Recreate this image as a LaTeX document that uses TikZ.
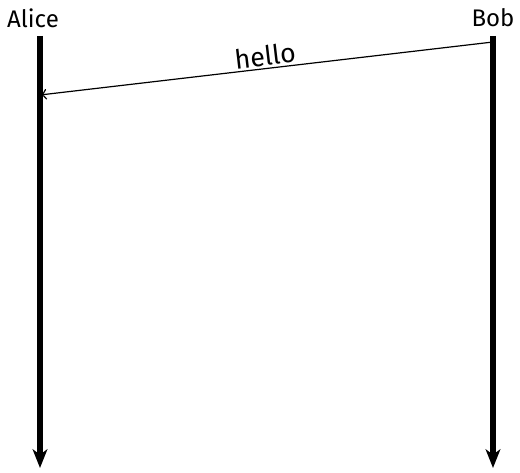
\documentclass[tikz,border=0pt]{standalone}
\usepackage{fontspec}
\setmainfont{Fira Sans}
\usetikzlibrary{arrows.meta}
\begin{document}
\begin{tikzpicture}[x=0.75pt,y=-0.75pt,
  actor/.style={font=\fontsize{18}{21}\selectfont, inner sep=0pt},
  lifeline/.style={line width=3.8pt, -{Stealth[length=14pt,width=11pt,inset=4pt]}},
  msg/.style={line width=0.9pt, -{To[length=5pt,width=8pt]}}]
\useasboundingbox (0,0) rectangle (520,473);
\node[actor] (alice) at (33,18) {Alice};
\node[actor] (bob) at (493,18) {Bob};
\coordinate (atop) at (40,36);
\coordinate (abot) at (40,468);
\coordinate (btop) at (493,36);
\coordinate (bbot) at (493,468);
\draw[lifeline] (atop) -- (abot);
\draw[lifeline] (btop) -- (bbot);
\coordinate (ms) at (493,42);
\coordinate (me) at (40,95);
\draw[msg] (ms) -- node[sloped, above, font=\fontsize{20}{24}\selectfont, inner sep=1.5pt] (lbl) {hello} (me);
\end{tikzpicture}
\end{document}
